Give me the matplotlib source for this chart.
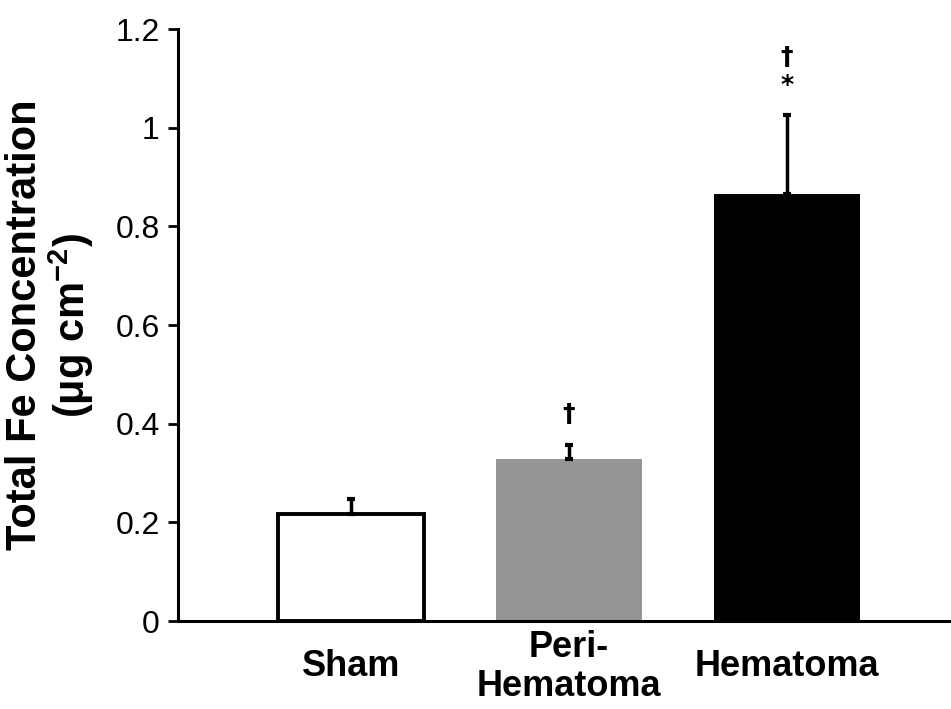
import matplotlib
matplotlib.use("Agg")
import matplotlib.pyplot as plt

categories = ["Sham", "Peri-\nHematoma", "Hematoma"]
means = [0.217, 0.328, 0.865]
errors = [0.031, 0.029, 0.160]
colors = ["white", "#959595", "black"]
sig_labels = ["", "\u2020", "\u2020\n*"]
sig_y = [None, 0.42, 1.115]
yticks = [0, 0.2, 0.4, 0.6, 0.8, 1, 1.2]
yticklabels = ["0", "0.2", "0.4", "0.6", "0.8", "1", "1.2"]

plt.rcParams['font.family'] = ['Liberation Sans', 'DejaVu Sans']
plt.rcParams['mathtext.fontset'] = 'custom'
plt.rcParams['mathtext.rm'] = 'Liberation Sans'
plt.rcParams['mathtext.bf'] = 'Liberation Sans:bold'

fig = plt.figure(figsize=(9.51, 7.09), dpi=100)
ax = fig.add_axes([0.187, 0.124, 0.812, 0.835])

x = list(range(len(categories)))
ax.bar(x, means, width=0.67, color=colors, edgecolor=["black", "none", "none"],
       linewidth=2.8, zorder=2)
ax.errorbar(x, means, yerr=[[0]*3, errors], fmt='none', ecolor='black',
            elinewidth=2.5, capsize=3, capthick=3, zorder=3)

for xi, lab, yy in zip(x, sig_labels, sig_y):
    if lab:
        ax.text(xi, yy, lab, ha='center', va='center', fontsize=18,
                fontweight='bold', linespacing=1.2, zorder=4,
                family=['DejaVu Sans'])

ax.set_ylim(0, 1.2)
ax.set_xlim(-0.795, 2.75)
ax.set_yticks(yticks)
ax.set_yticklabels(yticklabels, fontsize=23)
ax.set_xticks(x)
ax.set_xticklabels(categories, fontsize=26, fontweight='bold', va='center',
                   linespacing=1.15)
ax.tick_params(axis='x', length=0, pad=33)
ax.tick_params(axis='y', direction='out', length=7, width=2, pad=6)

for s in ['top', 'right']:
    ax.spines[s].set_visible(False)
for s in ['left', 'bottom']:
    ax.spines[s].set_linewidth(2.2)

ax.set_ylabel("Total Fe Concentration\n(\u03bcg cm$^{\\mathbf{-2}}$)", fontsize=30,
              fontweight='bold', linespacing=1.05, labelpad=14)

fig.savefig("out.png", dpi=100)
